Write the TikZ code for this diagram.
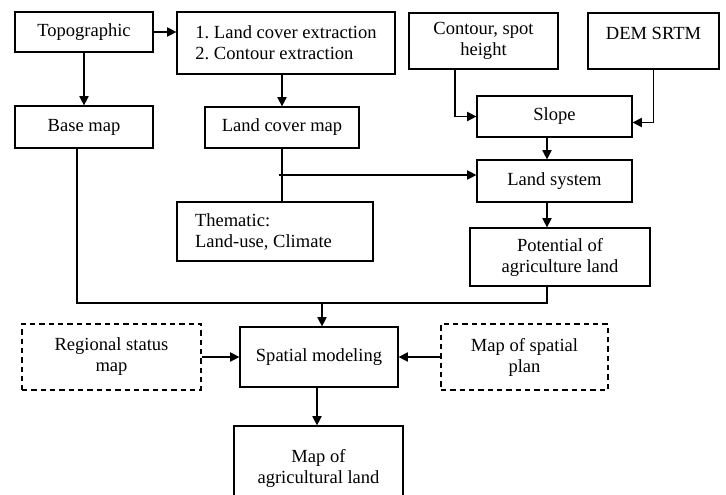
\documentclass[tikz,border=0pt]{standalone}
\usepackage{fontspec}
\setmainfont{Liberation Serif}
\usepackage{tikz}
\usetikzlibrary{arrows.meta, positioning, calc}

\begin{document}
\begin{tikzpicture}[
    x=0.75pt, y=-0.75pt,
    font=\fontsize{13.9}{15.75}\selectfont\frenchspacing,
    block/.style={
        rectangle,
        draw,
        line width=0.9pt,
        align=center,
        inner sep=2pt
    },
    dashblock/.style={
        block,
        dashed,
        dash pattern=on 4pt off 3pt
    },
    line/.style={
        draw,
        line width=0.9pt,
        -{Triangle[length=7pt,width=7pt]}
    },
    plain/.style={
        draw,
        line width=0.9pt
    }
]
\useasboundingbox (0,0) rectangle (726,494);

% Nodes
\node [block, minimum width=103.5pt, minimum height=30pt] (topo) at (84,32) {Topographic};
\node [block, minimum width=163.5pt, minimum height=46.5pt, align=left] (extract) at (286,43) {1. Land cover extraction\\2. Contour extraction};
\node [block, minimum width=103.5pt, minimum height=31.5pt] (basemap) at (84,127) {Base map};
\node [block, minimum width=115.5pt, minimum height=30.75pt] (lcmap) at (282,127.5) {Land cover map};
\node [block, minimum width=111.75pt, minimum height=42pt] (contour) at (483.5,41) {Contour, spot\\height};
% Text sits high in this box
\node [block, minimum width=98.25pt, minimum height=42pt, text height=10pt, text depth=13pt] (dem) at (653.5,41) {DEM SRTM};
\node [block, minimum width=116.25pt, minimum height=30.75pt] (slope) at (554.5,116.5) {Slope};
\node [block, minimum width=116.25pt, minimum height=31.5pt] (landsys) at (554.5,181) {Land system};
\node [block, text width=120pt, inner xsep=13.5pt, minimum height=44.25pt, align=flush left] (thematic) at (275,231.5) {Thematic:\\Land-use, Climate};
\node [block, minimum width=135pt, minimum height=43.5pt] (potential) at (560,257) {Potential of\\agriculture land};
\node [dashblock, minimum width=134.25pt, minimum height=49.5pt] (regional) at (111.5,357) {Regional status\\map};
\node [block, minimum width=118.5pt, minimum height=45pt] (spatial) at (319,357) {Spatial modeling};
\node [dashblock, minimum width=125.25pt, minimum height=49.5pt] (mapspatial) at (524.5,357) {Map of spatial\\plan};
\node [block, minimum width=126.75pt, minimum height=63pt] (mapagri) at (318.5,468) {Map of\\agricultural land};

% Helper coordinates
\coordinate (axis) at (547,0);
\coordinate (branch) at ($(lcmap.south)!0.5!(thematic.north)$);
\coordinate (join) at (322,303);

% Paths
\path [line] (topo.east) -- (topo.east -| extract.west);
\path [line] (topo) -- (basemap);
\path [line] (lcmap.north |- extract.south) -- (lcmap.north);
\path [line] ($(contour.south)+(-28.5,0)$) |- (slope.west);
\path [line] (dem.south) |- ($(slope.east)+(0,6)$);
\path [line] (slope.south -| axis) -- (landsys.north -| axis);
\path [plain] (lcmap.south) -- (thematic.north -| lcmap.south);
\path [line] (branch) -- (branch -| landsys.west);
\path [line] (landsys.south -| axis) -- (potential.north -| axis);
% Collect base map and potential land into spatial modeling
\path [plain] ($(basemap.south)+(-7,0)$) |- (join) -| (potential.south -| axis);
\path [line] (join) -- (join |- spatial.north);
\path [line] (regional.east) -- (spatial.west);
\path [line] (mapspatial.west) -- (spatial.east);
\path [line] ($(spatial.south)+(-2,0)$) -- ($(spatial.south |- mapagri.north)+(-2,0)$);

\end{tikzpicture}
\end{document}
